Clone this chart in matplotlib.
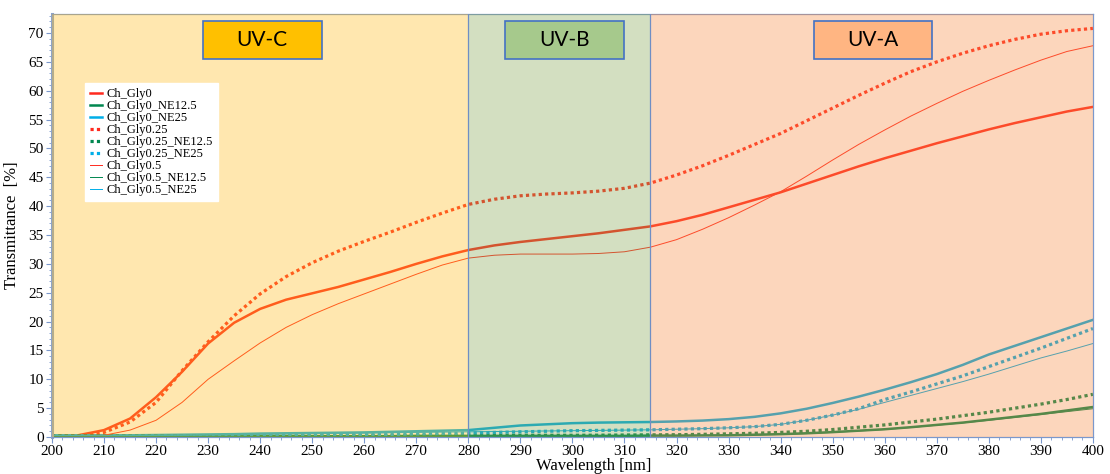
import numpy as np
import matplotlib
matplotlib.use("Agg")
import matplotlib.pyplot as plt
from matplotlib.patches import Rectangle
from matplotlib.ticker import MultipleLocator

plt.rcParams["font.family"] = ["Liberation Serif", "DejaVu Serif"]

# dane
wl = np.arange(200, 401, 5)

gly0 = [0.1, 0.3, 1.2, 3.2, 6.9, 11.3, 16.2, 19.8, 22.2, 23.8, 24.9, 26.0, 27.3, 28.6,
        30.0, 31.3, 32.4, 33.2, 33.8, 34.3, 34.8, 35.3, 35.9, 36.5, 37.4, 38.5, 39.8,
        41.1, 42.4, 43.9, 45.4, 46.9, 48.3, 49.6, 50.9, 52.1, 53.3, 54.4, 55.4, 56.4, 57.2]
gly0_ne12 = [0.15, 0.15, 0.15, 0.15, 0.15, 0.15, 0.15, 0.15, 0.15, 0.15, 0.15, 0.15, 0.15, 0.15,
             0.2, 0.2, 0.2, 0.2, 0.2, 0.2, 0.2, 0.2, 0.2, 0.25, 0.25, 0.28, 0.3,
             0.4, 0.5, 0.65, 0.85, 1.1, 1.35, 1.7, 2.1, 2.5, 3.0, 3.5, 4.0, 4.6, 5.2]
gly0_ne25 = [0.3, 0.3, 0.3, 0.3, 0.35, 0.4, 0.45, 0.5, 0.6, 0.65, 0.7, 0.75, 0.8, 0.9,
             1.0, 1.1, 1.2, 1.6, 2.0, 2.2, 2.4, 2.5, 2.55, 2.6, 2.7, 2.85, 3.1,
             3.5, 4.1, 4.9, 5.9, 7.0, 8.2, 9.5, 10.9, 12.5, 14.3, 15.8, 17.3, 18.8, 20.3]
gly025 = [0.1, 0.2, 0.8, 2.6, 6.0, 11.5, 16.5, 21.0, 24.8, 27.8, 30.2, 32.2, 33.9, 35.5,
          37.2, 38.8, 40.3, 41.2, 41.8, 42.1, 42.3, 42.6, 43.1, 44.0, 45.4, 47.0, 48.8,
          50.7, 52.6, 54.8, 57.0, 59.2, 61.3, 63.3, 65.0, 66.5, 67.8, 68.9, 69.8, 70.4, 70.8]
gly025_ne12 = [0.2, 0.2, 0.2, 0.2, 0.2, 0.2, 0.2, 0.2, 0.2, 0.2, 0.2, 0.22, 0.24, 0.26,
               0.28, 0.3, 0.3, 0.3, 0.3, 0.3, 0.3, 0.32, 0.35, 0.38, 0.4, 0.47, 0.55,
               0.65, 0.8, 1.0, 1.3, 1.7, 2.1, 2.6, 3.1, 3.7, 4.3, 5.0, 5.7, 6.5, 7.4]
gly025_ne25 = [0.1, 0.1, 0.1, 0.15, 0.15, 0.2, 0.2, 0.25, 0.25, 0.3, 0.3, 0.35, 0.4, 0.45,
               0.5, 0.6, 0.7, 0.8, 0.9, 1.0, 1.1, 1.15, 1.2, 1.25, 1.35, 1.45, 1.6,
               1.8, 2.2, 2.9, 3.8, 4.9, 6.5, 7.8, 9.2, 10.6, 12.2, 13.8, 15.4, 17.1, 18.8]
gly05 = [0.0, 0.1, 0.3, 1.2, 2.9, 6.0, 10.0, 13.2, 16.3, 19.0, 21.2, 23.1, 24.8, 26.5,
         28.2, 29.8, 31.0, 31.5, 31.7, 31.7, 31.7, 31.8, 32.1, 32.9, 34.2, 36.0, 38.0,
         40.2, 42.5, 45.2, 48.0, 50.7, 53.2, 55.6, 57.8, 59.9, 61.8, 63.6, 65.3, 66.8, 67.8]
gly05_ne12 = [0.1, 0.1, 0.1, 0.1, 0.1, 0.1, 0.1, 0.1, 0.1, 0.1, 0.1, 0.1, 0.1, 0.1,
              0.15, 0.15, 0.15, 0.15, 0.15, 0.15, 0.15, 0.15, 0.2, 0.2, 0.22, 0.25, 0.28,
              0.35, 0.45, 0.6, 0.8, 1.05, 1.3, 1.65, 2.05, 2.45, 2.9, 3.4, 3.9, 4.4, 4.9]
gly05_ne25 = [0.25, 0.25, 0.25, 0.25, 0.3, 0.35, 0.4, 0.45, 0.5, 0.55, 0.6, 0.65, 0.7, 0.75,
              0.8, 0.85, 0.9, 0.95, 1.0, 1.05, 1.1, 1.15, 1.2, 1.25, 1.35, 1.45, 1.6,
              1.8, 2.2, 2.9, 3.8, 4.8, 6.0, 7.2, 8.4, 9.6, 10.9, 12.3, 13.7, 14.9, 16.2]

nazwy = ["Ch_Gly0", "Ch_Gly0_NE12.5", "Ch_Gly0_NE25",
         "Ch_Gly0.25", "Ch_Gly0.25_NE12.5", "Ch_Gly0.25_NE25",
         "Ch_Gly0.5", "Ch_Gly0.5_NE12.5", "Ch_Gly0.5_NE25"]
serie = [gly0, gly0_ne12, gly0_ne25, gly025, gly025_ne12, gly025_ne25,
         gly05, gly05_ne12, gly05_ne25]

pasma = ["UV-C", "UV-B", "UV-A"]
granice = [200, 280, 315, 400]

kolory = ["#ff2a1f", "#00874f", "#00aee8"] * 3
style = ["-"] * 3 + [(0, (1, 1))] * 3 + ["-"] * 3
grubosci = [1.8] * 3 + [2.3] * 3 + [0.7] * 3

tlo = ["#ffbd1a", "#81a44e", "#f98a40"]
ramki = ["#ffc000", "#a6c98c", "#ffb582"]
ramki_x = [(229, 251.8), (287, 309.9), (346.5, 369.1)]

fig = plt.figure(figsize=(11.1, 4.74), dpi=100)
ax = fig.add_axes([0.0468, 0.078, 0.9378, 0.8925])

for y, n, c, s, lw in zip(serie, nazwy, kolory, style, grubosci):
    ax.plot(wl, y, color=c, linestyle=s, linewidth=lw, label=n, zorder=2)

# kolorowe pasma nalozone na wykres
for i in range(3):
    ax.axvspan(granice[i], granice[i + 1], color=tlo[i], alpha=0.35, lw=0, zorder=3)
for g in granice[1:3]:
    ax.axvline(g, color="#6f8ec4", lw=0.9, zorder=4)

for (x0, x1), fc, txt in zip(ramki_x, ramki, pasma):
    ax.add_patch(Rectangle((x0, 65.5), x1 - x0, 6.6, facecolor=fc, edgecolor="#4472c4",
                           lw=1.2, zorder=5))
    ax.text((x0 + x1) / 2, 68.8, txt, ha="center", va="center", fontsize=15,
            family="Lato", color="black", zorder=6)

ax.set_xlim(200, 400)
ax.set_ylim(0, 73.3)
ax.xaxis.set_major_locator(MultipleLocator(10))
ax.xaxis.set_minor_locator(MultipleLocator(2))
ax.yaxis.set_major_locator(MultipleLocator(5))
ax.yaxis.set_minor_locator(MultipleLocator(1))

for sp in ax.spines.values():
    sp.set_color("#7b98cc")
    sp.set_linewidth(0.9)
ax.spines["left"].set_linewidth(2.2)
ax.spines["left"].set_color("#8ea4c8")

ax.tick_params(which="major", length=4, color="#7b98cc", labelsize=11, pad=2)
ax.tick_params(which="minor", length=2, color="#7b98cc")

ax.set_ylabel("Transmittance  [%]", fontsize=12, labelpad=6)
ax.set_xlabel("Wavelength [nm]", fontsize=12)
ax.xaxis.set_label_coords(0.52, -0.05)

leg = ax.legend(loc="upper left", bbox_to_anchor=(0.032, 0.837), borderaxespad=0,
                prop={"size": 9}, handlelength=0.9, handletextpad=0.4, labelspacing=0.0,
                borderpad=0.4, fancybox=False, framealpha=1, edgecolor="white")
leg.set_zorder(7)

plt.savefig("out.png", dpi=100)
